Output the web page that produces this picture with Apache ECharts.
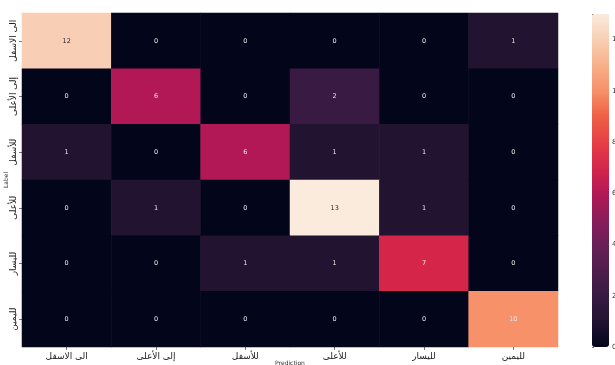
<!DOCTYPE html>
<html>
<head>
<meta charset="utf-8">
<script src="https://cdn.jsdelivr.net/npm/echarts@6/dist/echarts.min.js"></script>
<style>
  html, body { margin: 0; padding: 0; background: #fff; }
  #chart { width: 615px; height: 365px; }
</style>
</head>
<body>
<div id="chart"></div>
<script>
// Class names, shared by both axes (true label rows, predicted columns)
const classes = ['الى الاسفل', 'إلى الأعلى', 'للأسفل', 'للأعلى', 'لليسار', 'لليمين'];

// Confusion matrix counts, one array per true label
const rowDown      = [12, 0, 0, 0, 0, 1];
const rowUp        = [0, 6, 0, 2, 0, 0];
const rowToDown    = [1, 0, 6, 1, 1, 0];
const rowToUp      = [0, 1, 0, 13, 1, 0];
const rowLeft      = [0, 0, 1, 1, 7, 0];
const rowRight     = [0, 0, 0, 0, 0, 10];
const matrix = [rowDown, rowUp, rowToDown, rowToUp, rowLeft, rowRight];

// Colour bar scale
const scaleMin = 0;
const scaleMax = 13;
const colorbarTicks = [0, 2, 4, 6, 8, 10, 12];

// "rocket" colour ramp, one stop per integer count 0..13
const rocket = ['#03051A', '#221331', '#381A43', '#4F1D4D', '#6A1F56', '#8B1D5B',
                '#B31856', '#D5264A', '#E63F45', '#EF6046', '#F6916A', '#F6B08A',
                '#F8CFB4', '#FAEBDD'];

const FONT = 'DejaVu Sans';

const cells = [];
matrix.forEach((row, r) => {
  row.forEach((v, c) => {
    const light = v / scaleMax > 0.85;
    cells.push({
      value: [c, r, v],
      label: { color: light ? '#262626' : '#e8e8e8' }
    });
  });
});

const chart = echarts.init(document.getElementById('chart'), null, { renderer: 'canvas' });
chart.setOption({
  animation: false,
  backgroundColor: '#ffffff',
  textStyle: { fontFamily: FONT },
  grid: [
    { left: 22, right: 57, top: 13, bottom: 18, containLabel: false, outerBoundsMode: 'none' },
    { left: 592, width: 17, top: 14, bottom: 18, containLabel: false, outerBoundsMode: 'none' }
  ],
  xAxis: [
    {
      gridIndex: 0,
      type: 'category',
      data: classes,
      name: 'Prediction',
      nameLocation: 'middle',
      nameGap: 13,
      nameMoveOverlap: false,
      nameTextStyle: { fontSize: 6, color: '#333', fontFamily: FONT },
      axisLine: { show: false },
      axisTick: { show: true, alignWithLabel: true, length: 3, lineStyle: { color: '#555', width: 0.8 } },
      axisLabel: { interval: 0, hideOverlap: false, fontSize: 9, color: '#222', margin: 5, fontFamily: FONT },
      splitLine: { show: false }
    },
    {
      gridIndex: 1,
      type: 'value',
      show: false,
      min: 0,
      max: 1
    }
  ],
  yAxis: [
    {
      gridIndex: 0,
      type: 'category',
      data: classes,
      inverse: true,
      name: 'Label',
      nameLocation: 'middle',
      nameRotate: 90,
      nameGap: 13,
      nameMoveOverlap: false,
      nameTextStyle: { fontSize: 6, color: '#333', fontFamily: FONT },
      axisLine: { show: false },
      axisTick: { show: true, alignWithLabel: true, length: 3, lineStyle: { color: '#555', width: 0.8 } },
      axisLabel: { interval: 0, hideOverlap: false, fontSize: 9, color: '#222', rotate: 90, margin: 4, fontFamily: FONT },
      splitLine: { show: false }
    },
    {
      gridIndex: 1,
      type: 'value',
      position: 'right',
      min: scaleMin,
      max: scaleMax,
      interval: 2,
      axisLine: { show: false },
      axisTick: { show: true, length: 2, lineStyle: { color: '#555', width: 0.8 } },
      axisLabel: {
        fontSize: 7, color: '#333', margin: 3, fontFamily: FONT,
        formatter: v => (colorbarTicks.indexOf(v) >= 0 ? String(v) : '')
      },
      splitLine: { show: false }
    }
  ],
  visualMap: {
    type: 'continuous',
    seriesIndex: 0,
    min: scaleMin,
    max: scaleMax,
    calculable: false,
    realtime: false,
    left: 592,
    top: 14,
    itemWidth: 17,
    itemHeight: 333,
    text: ['', ''],
    showLabel: false,
    padding: 0,
    inRange: { color: rocket }
  },
  series: [
    {
      type: 'heatmap',
      xAxisIndex: 0,
      yAxisIndex: 0,
      data: cells,
      label: {
        show: true,
        fontSize: 6.5,
        fontFamily: FONT,
        formatter: p => String(p.value[2])
      },
      itemStyle: { borderWidth: 0 },
      emphasis: { disabled: true }
    }
  ]
});
</script>
</body>
</html>
